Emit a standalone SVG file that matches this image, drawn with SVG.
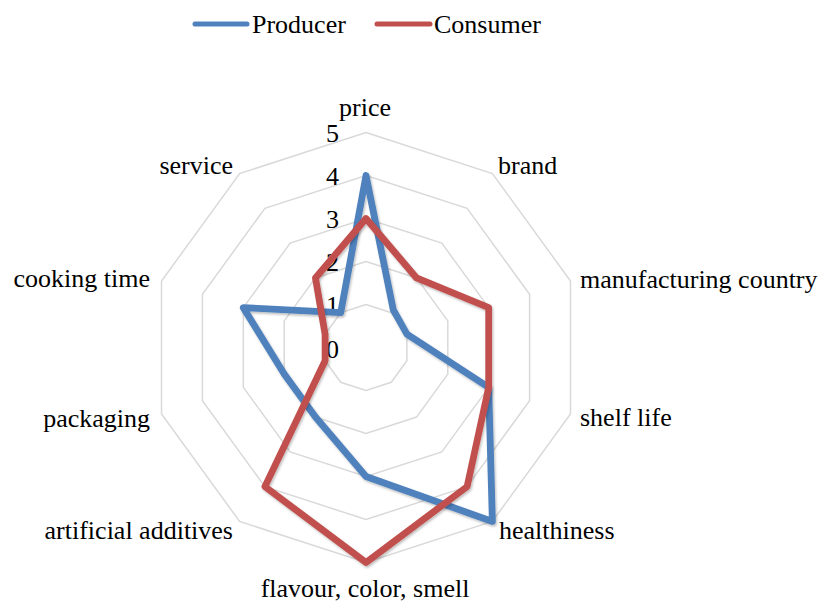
<svg xmlns="http://www.w3.org/2000/svg" width="824" height="603" viewBox="0 0 824 603">
  <defs>
    <filter id="shadow" x="-10%" y="-10%" width="120%" height="120%">
      <feDropShadow dx="1.2" dy="1.8" stdDeviation="1" flood-color="#000" flood-opacity="0.25"/>
    </filter>
  </defs>
  <style>
    .grid { fill: none; stroke: #d9d9d9; stroke-width: 1.5; }
    .series { fill: none; stroke-width: 6.8; stroke-linejoin: round; filter: url(#shadow); }
    .producer { stroke: #4f81bd; }
    .consumer { stroke: #c0504d; }
    .t { font-family: 'Liberation Serif', 'Times New Roman', 'DejaVu Serif', serif; font-size: 26px; fill: #000; }
    .tick { text-anchor: end; }
    .mid { text-anchor: middle; }
    .end { text-anchor: end; }
    .leg { stroke-width: 5; stroke-linecap: round; }
  </style>
  <rect width="824" height="603" fill="#ffffff"/>

  <g id="grid">
    <polygon class="grid" points="366,304.5 391.28,312.71 406.90,334.21 406.90,360.79 391.28,382.29 366,390.5 340.72,382.29 325.10,360.79 325.10,334.21 340.72,312.71"/>
    <polygon class="grid" points="366,261.5 416.55,277.93 447.79,320.93 447.79,374.07 416.55,417.07 366,433.5 315.45,417.07 284.21,374.07 284.21,320.93 315.45,277.93"/>
    <polygon class="grid" points="366,218.5 441.83,243.14 488.69,307.64 488.69,387.36 441.83,451.86 366,476.5 290.17,451.86 243.31,387.36 243.31,307.64 290.17,243.14"/>
    <polygon class="grid" points="366,175.5 467.10,208.35 529.59,294.35 529.59,400.65 467.10,486.65 366,519.5 264.90,486.65 202.41,400.65 202.41,294.35 264.90,208.35"/>
    <polygon class="grid" points="366,132.5 492.38,173.56 570.49,281.06 570.49,413.94 492.38,521.44 366,562.5 239.62,521.44 161.51,413.94 161.51,281.06 239.62,173.56"/>
  </g>

  <g id="ticks">
    <text class="t tick" x="339" y="142">5</text>
    <text class="t tick" x="339" y="185">4</text>
    <text class="t tick" x="339" y="228">3</text>
    <text class="t tick" x="339" y="271">2</text>
    <text class="t tick" x="339" y="314">1</text>
    <text class="t tick" x="339" y="358">0</text>
  </g>

  <g id="series">
    <polygon id="producer" class="series producer" points="366,175.5 393.30,309.93 406.90,334.21 488.69,387.36 492.38,521.44 366,476.5 315.45,417.07 284.21,374.07 243.31,307.64 340.72,312.71"/>
    <polygon id="consumer" class="series consumer" points="366,218.5 416.55,277.93 488.69,307.64 488.69,387.36 467.10,486.65 366,562.5 264.90,486.65 325.10,360.79 325.10,334.21 315.45,277.93"/>
  </g>

  <g id="axis-labels">
    <text id="lbl-price" class="t mid" x="365" y="116">price</text>
    <text id="lbl-brand" class="t" x="498" y="174">brand</text>
    <text id="lbl-manufacturing" class="t" x="580" y="288">manufacturing country</text>
    <text id="lbl-shelf" class="t" x="580" y="426">shelf life</text>
    <text id="lbl-healthiness" class="t" x="499" y="539">healthiness</text>
    <text id="lbl-flavour" class="t mid" x="365" y="597">flavour, color, smell</text>
    <text id="lbl-additives" class="t end" x="233" y="539">artificial additives</text>
    <text id="lbl-packaging" class="t end" x="150" y="427">packaging</text>
    <text id="lbl-cooking" class="t end" x="150" y="287">cooking time</text>
    <text id="lbl-service" class="t end" x="233" y="174">service</text>
  </g>

  <g id="legend">
    <line class="leg producer" x1="195" y1="24" x2="247" y2="24"/>
    <text class="t" x="252" y="33">Producer</text>
    <line class="leg consumer" x1="377" y1="24" x2="430" y2="24"/>
    <text class="t" x="434" y="33">Consumer</text>
  </g>
</svg>
